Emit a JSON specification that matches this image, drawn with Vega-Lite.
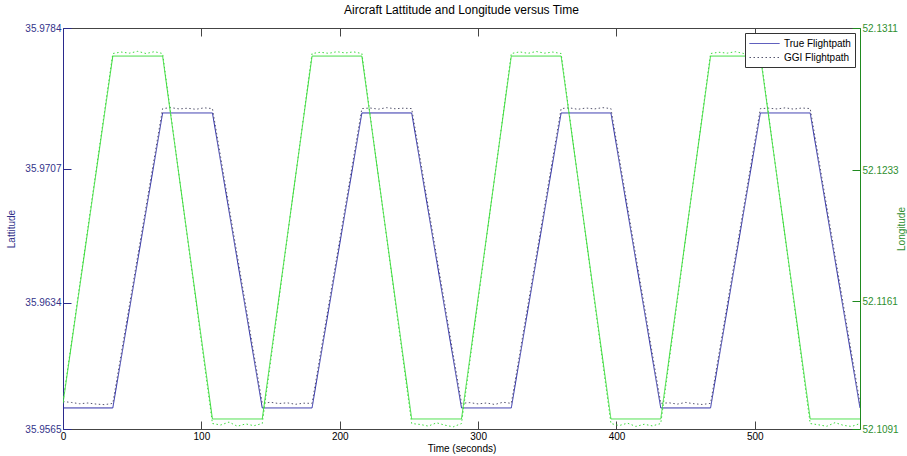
{
  "$schema": "https://vega.github.io/schema/vega-lite/v6.json",
  "width": 797,
  "height": 401,
  "autosize": {"type": "none"},
  "padding": {"left": 63, "top": 28, "right": 47, "bottom": 27},
  "background": "white",
  "config": {
    "font": "Liberation Sans",
    "view": {"stroke": null},
    "axis": {"grid": false, "labelFontSize": 10, "titleFontSize": 10, "titleFontWeight": "normal", "labelFont": "Liberation Sans", "titleFont": "Liberation Sans", "tickSize": -8, "domainWidth": 1, "tickWidth": 1}
  },
  "title": {"text": "Aircraft Lattitude and Longitude versus Time", "fontSize": 12, "fontWeight": "normal", "font": "Liberation Sans", "color": "#000000", "offset": 6},
  "data": {
    "values": [
      {"t": 0, "source": "True Flightpath", "lat": 35.95765, "lon": 52.1105},
      {"t": 36, "source": "True Flightpath", "lat": 35.95765, "lon": 52.12956},
      {"t": 72, "source": "True Flightpath", "lat": 35.97376, "lon": 52.12956},
      {"t": 108, "source": "True Flightpath", "lat": 35.97376, "lon": 52.10965},
      {"t": 144, "source": "True Flightpath", "lat": 35.95765, "lon": 52.10965},
      {"t": 180, "source": "True Flightpath", "lat": 35.95765, "lon": 52.12956},
      {"t": 216, "source": "True Flightpath", "lat": 35.97376, "lon": 52.12956},
      {"t": 252, "source": "True Flightpath", "lat": 35.97376, "lon": 52.10965},
      {"t": 288, "source": "True Flightpath", "lat": 35.95765, "lon": 52.10965},
      {"t": 324, "source": "True Flightpath", "lat": 35.95765, "lon": 52.12956},
      {"t": 360, "source": "True Flightpath", "lat": 35.97376, "lon": 52.12956},
      {"t": 396, "source": "True Flightpath", "lat": 35.97376, "lon": 52.10965},
      {"t": 432, "source": "True Flightpath", "lat": 35.95765, "lon": 52.10965},
      {"t": 468, "source": "True Flightpath", "lat": 35.95765, "lon": 52.12956},
      {"t": 504, "source": "True Flightpath", "lat": 35.97376, "lon": 52.12956},
      {"t": 540, "source": "True Flightpath", "lat": 35.97376, "lon": 52.10965},
      {"t": 576, "source": "True Flightpath", "lat": 35.95765, "lon": 52.10965},

      {"t": 0, "source": "GGI Flightpath", "lat": 35.9580, "lon": 52.1106},
      {"t": 6, "source": "GGI Flightpath", "lat": 35.95795, "lon": 52.11378},
      {"t": 12, "source": "GGI Flightpath", "lat": 35.95788, "lon": 52.11697},
      {"t": 18, "source": "GGI Flightpath", "lat": 35.95792, "lon": 52.12015},
      {"t": 24, "source": "GGI Flightpath", "lat": 35.95786, "lon": 52.12333},
      {"t": 30, "source": "GGI Flightpath", "lat": 35.95783, "lon": 52.12652},
      {"t": 36, "source": "GGI Flightpath", "lat": 35.9579, "lon": 52.1297},
      {"t": 42, "source": "GGI Flightpath", "lat": 35.96058, "lon": 52.12978},
      {"t": 48, "source": "GGI Flightpath", "lat": 35.96327, "lon": 52.12972},
      {"t": 54, "source": "GGI Flightpath", "lat": 35.96595, "lon": 52.12982},
      {"t": 60, "source": "GGI Flightpath", "lat": 35.96863, "lon": 52.1297},
      {"t": 66, "source": "GGI Flightpath", "lat": 35.97132, "lon": 52.1298},
      {"t": 72, "source": "GGI Flightpath", "lat": 35.9740, "lon": 52.1297},
      {"t": 78, "source": "GGI Flightpath", "lat": 35.97405, "lon": 52.12632},
      {"t": 84, "source": "GGI Flightpath", "lat": 35.97398, "lon": 52.12293},
      {"t": 90, "source": "GGI Flightpath", "lat": 35.97402, "lon": 52.11955},
      {"t": 96, "source": "GGI Flightpath", "lat": 35.97396, "lon": 52.11617},
      {"t": 102, "source": "GGI Flightpath", "lat": 35.97404, "lon": 52.11278},
      {"t": 108, "source": "GGI Flightpath", "lat": 35.9740, "lon": 52.1094},
      {"t": 114, "source": "GGI Flightpath", "lat": 35.97132, "lon": 52.10932},
      {"t": 120, "source": "GGI Flightpath", "lat": 35.96863, "lon": 52.10948},
      {"t": 126, "source": "GGI Flightpath", "lat": 35.96595, "lon": 52.10925},
      {"t": 132, "source": "GGI Flightpath", "lat": 35.96327, "lon": 52.10938},
      {"t": 138, "source": "GGI Flightpath", "lat": 35.96058, "lon": 52.10928},
      {"t": 144, "source": "GGI Flightpath", "lat": 35.9579, "lon": 52.1094},
      {"t": 150, "source": "GGI Flightpath", "lat": 35.95796, "lon": 52.11278},
      {"t": 156, "source": "GGI Flightpath", "lat": 35.95789, "lon": 52.11617},
      {"t": 162, "source": "GGI Flightpath", "lat": 35.95793, "lon": 52.11955},
      {"t": 168, "source": "GGI Flightpath", "lat": 35.95785, "lon": 52.12293},
      {"t": 174, "source": "GGI Flightpath", "lat": 35.95791, "lon": 52.12632},
      {"t": 180, "source": "GGI Flightpath", "lat": 35.9579, "lon": 52.1297},
      {"t": 186, "source": "GGI Flightpath", "lat": 35.96058, "lon": 52.12977},
      {"t": 192, "source": "GGI Flightpath", "lat": 35.96327, "lon": 52.12971},
      {"t": 198, "source": "GGI Flightpath", "lat": 35.96595, "lon": 52.1298},
      {"t": 204, "source": "GGI Flightpath", "lat": 35.96863, "lon": 52.12973},
      {"t": 210, "source": "GGI Flightpath", "lat": 35.97132, "lon": 52.12979},
      {"t": 216, "source": "GGI Flightpath", "lat": 35.9740, "lon": 52.1297},
      {"t": 222, "source": "GGI Flightpath", "lat": 35.97403, "lon": 52.12632},
      {"t": 228, "source": "GGI Flightpath", "lat": 35.97397, "lon": 52.12293},
      {"t": 234, "source": "GGI Flightpath", "lat": 35.97405, "lon": 52.11955},
      {"t": 240, "source": "GGI Flightpath", "lat": 35.97399, "lon": 52.11617},
      {"t": 246, "source": "GGI Flightpath", "lat": 35.97402, "lon": 52.11278},
      {"t": 252, "source": "GGI Flightpath", "lat": 35.9740, "lon": 52.1094},
      {"t": 258, "source": "GGI Flightpath", "lat": 35.97132, "lon": 52.10935},
      {"t": 264, "source": "GGI Flightpath", "lat": 35.96863, "lon": 52.10926},
      {"t": 270, "source": "GGI Flightpath", "lat": 35.96595, "lon": 52.10944},
      {"t": 276, "source": "GGI Flightpath", "lat": 35.96327, "lon": 52.10931},
      {"t": 282, "source": "GGI Flightpath", "lat": 35.96058, "lon": 52.10922},
      {"t": 288, "source": "GGI Flightpath", "lat": 35.9579, "lon": 52.1094},
      {"t": 294, "source": "GGI Flightpath", "lat": 35.95794, "lon": 52.11278},
      {"t": 300, "source": "GGI Flightpath", "lat": 35.95787, "lon": 52.11617},
      {"t": 306, "source": "GGI Flightpath", "lat": 35.95792, "lon": 52.11955},
      {"t": 312, "source": "GGI Flightpath", "lat": 35.95784, "lon": 52.12293},
      {"t": 318, "source": "GGI Flightpath", "lat": 35.95796, "lon": 52.12632},
      {"t": 324, "source": "GGI Flightpath", "lat": 35.9579, "lon": 52.1297},
      {"t": 330, "source": "GGI Flightpath", "lat": 35.96058, "lon": 52.12979},
      {"t": 336, "source": "GGI Flightpath", "lat": 35.96327, "lon": 52.12971},
      {"t": 342, "source": "GGI Flightpath", "lat": 35.96595, "lon": 52.12981},
      {"t": 348, "source": "GGI Flightpath", "lat": 35.96863, "lon": 52.12972},
      {"t": 354, "source": "GGI Flightpath", "lat": 35.97132, "lon": 52.12978},
      {"t": 360, "source": "GGI Flightpath", "lat": 35.9740, "lon": 52.1297},
      {"t": 366, "source": "GGI Flightpath", "lat": 35.97404, "lon": 52.12632},
      {"t": 372, "source": "GGI Flightpath", "lat": 35.97396, "lon": 52.12293},
      {"t": 378, "source": "GGI Flightpath", "lat": 35.97403, "lon": 52.11955},
      {"t": 384, "source": "GGI Flightpath", "lat": 35.97398, "lon": 52.11617},
      {"t": 390, "source": "GGI Flightpath", "lat": 35.97405, "lon": 52.11278},
      {"t": 396, "source": "GGI Flightpath", "lat": 35.9740, "lon": 52.1094},
      {"t": 402, "source": "GGI Flightpath", "lat": 35.97132, "lon": 52.10929},
      {"t": 408, "source": "GGI Flightpath", "lat": 35.96863, "lon": 52.10942},
      {"t": 414, "source": "GGI Flightpath", "lat": 35.96595, "lon": 52.10924},
      {"t": 420, "source": "GGI Flightpath", "lat": 35.96327, "lon": 52.10936},
      {"t": 426, "source": "GGI Flightpath", "lat": 35.96058, "lon": 52.10927},
      {"t": 432, "source": "GGI Flightpath", "lat": 35.9579, "lon": 52.1094},
      {"t": 438, "source": "GGI Flightpath", "lat": 35.95793, "lon": 52.11278},
      {"t": 444, "source": "GGI Flightpath", "lat": 35.95786, "lon": 52.11617},
      {"t": 450, "source": "GGI Flightpath", "lat": 35.95795, "lon": 52.11955},
      {"t": 456, "source": "GGI Flightpath", "lat": 35.95788, "lon": 52.12293},
      {"t": 462, "source": "GGI Flightpath", "lat": 35.95784, "lon": 52.12632},
      {"t": 468, "source": "GGI Flightpath", "lat": 35.9579, "lon": 52.1297},
      {"t": 474, "source": "GGI Flightpath", "lat": 35.96058, "lon": 52.12977},
      {"t": 480, "source": "GGI Flightpath", "lat": 35.96327, "lon": 52.12972},
      {"t": 486, "source": "GGI Flightpath", "lat": 35.96595, "lon": 52.1298},
      {"t": 492, "source": "GGI Flightpath", "lat": 35.96863, "lon": 52.1297},
      {"t": 498, "source": "GGI Flightpath", "lat": 35.97132, "lon": 52.12979},
      {"t": 504, "source": "GGI Flightpath", "lat": 35.9740, "lon": 52.1297},
      {"t": 510, "source": "GGI Flightpath", "lat": 35.97402, "lon": 52.12632},
      {"t": 516, "source": "GGI Flightpath", "lat": 35.97398, "lon": 52.12293},
      {"t": 522, "source": "GGI Flightpath", "lat": 35.97404, "lon": 52.11955},
      {"t": 528, "source": "GGI Flightpath", "lat": 35.97397, "lon": 52.11617},
      {"t": 534, "source": "GGI Flightpath", "lat": 35.97403, "lon": 52.11278},
      {"t": 540, "source": "GGI Flightpath", "lat": 35.9740, "lon": 52.1094},
      {"t": 546, "source": "GGI Flightpath", "lat": 35.97132, "lon": 52.10933},
      {"t": 552, "source": "GGI Flightpath", "lat": 35.96863, "lon": 52.10925},
      {"t": 558, "source": "GGI Flightpath", "lat": 35.96595, "lon": 52.10945},
      {"t": 564, "source": "GGI Flightpath", "lat": 35.96327, "lon": 52.1093},
      {"t": 570, "source": "GGI Flightpath", "lat": 35.96058, "lon": 52.10924},
      {"t": 576, "source": "GGI Flightpath", "lat": 35.9579, "lon": 52.1094}
    ]
  },
  "layer": [
    {
      "mark": {"type": "line", "strokeWidth": 1, "clip": true},
      "encoding": {
        "x": {
          "field": "t", "type": "quantitative",
          "scale": {"domain": [0, 576], "nice": false, "zero": false},
          "axis": {"orient": "bottom", "title": "Time (seconds)", "values": [0, 100, 200, 300, 400, 500], "domainColor": "#444444", "tickColor": "#444444", "labelColor": "#000000", "titleColor": "#000000", "labelPadding": 10, "titlePadding": 2, "labelFlush": false}
        },
        "y": {
          "field": "lat", "type": "quantitative",
          "scale": {"domain": [35.9565, 35.9784], "nice": false, "zero": false},
          "axis": {"orient": "left", "title": "Lattitude", "values": [35.9565, 35.9634, 35.9707, 35.9784], "format": ".4f", "domainColor": "#2a2a8c", "tickColor": "#2a2a8c", "labelColor": "#33338a", "titleColor": "#33338a", "labelPadding": 10, "titlePadding": 8}
        },
        "color": {
          "field": "source", "type": "nominal",
          "scale": {"domain": ["True Flightpath", "GGI Flightpath"], "range": ["#2b2ba8", "#55556e"]},
          "legend": {"title": null, "orient": "top-right", "offset": 5, "symbolType": "M-1,0H4", "symbolSize": 144, "symbolStrokeWidth": 1, "labelFontSize": 10, "labelFont": "Liberation Sans", "labelColor": "#000000", "strokeColor": "#333333", "fillColor": "#ffffff", "padding": 4, "rowPadding": 2, "labelOffset": 22}
        },
        "strokeDash": {
          "field": "source", "type": "nominal",
          "scale": {"domain": ["True Flightpath", "GGI Flightpath"], "range": [[1, 0], [1.5, 2.5]]},
          "legend": {"title": null, "orient": "top-right", "offset": 5, "symbolType": "M-1,0H4", "symbolSize": 144, "symbolStrokeWidth": 1, "labelFontSize": 10, "labelFont": "Liberation Sans", "labelColor": "#000000", "strokeColor": "#333333", "fillColor": "#ffffff", "padding": 4, "rowPadding": 2, "labelOffset": 22}
        }
      }
    },
    {
      "mark": {"type": "line", "strokeWidth": 1, "color": "#3ddc3d", "clip": true},
      "encoding": {
        "x": {
          "field": "t", "type": "quantitative",
          "scale": {"domain": [0, 576], "nice": false, "zero": false},
          "axis": {"orient": "top", "title": null, "labels": false, "values": [0, 100, 200, 300, 400, 500], "domainColor": "#444444", "tickColor": "#444444"}
        },
        "y": {
          "field": "lon", "type": "quantitative",
          "scale": {"domain": [52.1091, 52.1311], "nice": false, "zero": false},
          "axis": {"orient": "right", "title": "Longitude", "titleAngle": 270, "values": [52.1091, 52.1161, 52.1233, 52.1311], "format": ".4f", "domainColor": "#1f8a1f", "tickColor": "#1f8a1f", "labelColor": "#2f8f2f", "titleColor": "#2f8f2f", "labelPadding": 10, "titlePadding": 8}
        },
        "strokeDash": {
          "field": "source", "type": "nominal",
          "scale": {"domain": ["True Flightpath", "GGI Flightpath"], "range": [[1, 0], [1.5, 2.5]]},
          "legend": null
        }
      }
    }
  ],
  "resolve": {"scale": {"y": "independent"}, "axis": {"x": "independent", "y": "independent"}}
}
